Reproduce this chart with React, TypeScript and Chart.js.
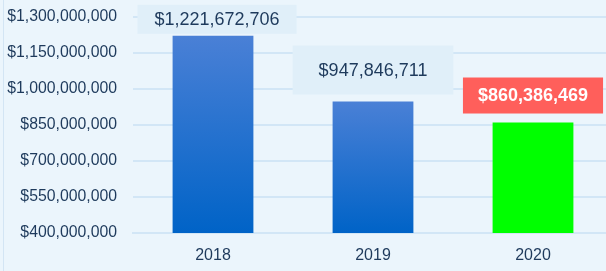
import React, { useEffect, useRef } from "react";
import { Chart, registerables } from "chart.js";

Chart.register(...registerables);

const categories = ["2018", "2019", "2020"];
const values = [1221672706, 947846711, 860386469];
const yMin = 400000000;
const yMax = 1300000000;
const yStep = 150000000;

const BG = "#EBF5FC";
const TEXT = "#1E3A5C";
const GRID = "#D2E6F6";
const FONT = "'Liberation Sans', Arial, sans-serif";

const fmt = (v: number) => "$" + Math.round(v).toLocaleString("en-US");

// label box styles per bar (not data)
const labelStyles = [
  { bg: "#E0EFF9", color: TEXT, weight: "normal", padX: 17, padY: 5.5, gap: 2, dx: 4 },
  { bg: "#E0EFF9", color: TEXT, weight: "normal", padX: 26, padY: 15.5, gap: 7, dx: 0 },
  { bg: "#FF5F5B", color: "#FFFFFF", weight: "bold", padX: 15, padY: 9, gap: 9, dx: 0 },
];

const labelPlugin = {
  id: "boxLabels",
  afterDatasetsDraw(chart: any) {
    const ctx = chart.ctx;
    const meta = chart.getDatasetMeta(0);
    meta.data.forEach((bar: any, i: number) => {
      const st = labelStyles[i];
      const text = fmt(chart.data.datasets[0].data[i]);
      ctx.save();
      ctx.font = `${st.weight} 18px ${FONT}`;
      const tw = ctx.measureText(text).width;
      const w = tw + st.padX * 2;
      const h = 18 + st.padY * 2;
      const cx = bar.x + st.dx;
      const bottom = bar.y - st.gap;
      ctx.fillStyle = st.bg;
      ctx.fillRect(cx - w / 2, bottom - h, w, h);
      ctx.fillStyle = st.color;
      ctx.textAlign = "center";
      ctx.textBaseline = "middle";
      ctx.fillText(text, cx, bottom - h / 2 + 1);
      ctx.restore();
    });
  },
};

export default function App() {
  const ref = useRef<HTMLCanvasElement | null>(null);
  useEffect(() => {
    document.body.style.margin = "0";
    document.body.style.background = BG;
    const canvas = ref.current!;
    const chart = new Chart(canvas, {
      type: "bar",
      data: {
        labels: categories,
        datasets: [
          {
            data: values,
            categoryPercentage: 1,
            barPercentage: 0.505,
            backgroundColor: (c: any) => {
              const ch = c.chart;
              const i = c.dataIndex;
              if (i === 2) return "#00FF00";
              const ys = ch.scales?.y;
              if (!ys || !ch.chartArea) return "#2a74d0";
              const v = c.raw as number;
              const top = ys.getPixelForValue(v);
              const base = ys.getPixelForValue(yMin);
              const g = ch.ctx.createLinearGradient(0, top, 0, base);
              g.addColorStop(0, "#4A80D6");
              g.addColorStop(1, "#0063C7");
              return g;
            },
          },
        ],
      },
      options: {
        responsive: false,
        animation: false,
        layout: { padding: { top: 17, right: 0, left: 0, bottom: 0 } },
        plugins: { legend: { display: false }, tooltip: { enabled: false } },
        scales: {
          x: {
            grid: { display: false, drawTicks: false },
            border: { display: true, color: GRID, width: 2 },
            ticks: { color: TEXT, font: { size: 16, family: FONT }, padding: 13 },
            afterFit: (s: any) => {
              s.height = 38;
              s.paddingLeft = 0;
              s.paddingRight = 0;
            },
          },
          y: {
            min: yMin,
            max: yMax,
            grid: { color: GRID, lineWidth: 2, drawTicks: false },
            border: { display: false },
            ticks: {
              stepSize: yStep,
              color: TEXT,
              font: { size: 15.8, family: FONT },
              padding: 16,
              callback: (v: any) => fmt(Number(v)),
            },
            afterFit: (s: any) => {
              s.width = 133;
              s.paddingTop = 0;
              s.paddingBottom = 0;
            },
          },
        },
      },
      plugins: [labelPlugin],
    });
    return () => chart.destroy();
  }, []);
  return (
    <div
      style={{
        position: "fixed",
        left: 0,
        top: 0,
        width: 606,
        height: 271,
        overflow: "hidden",
        background: BG,
      }}
    >
      <div
        style={{
          position: "absolute",
          left: 3,
          top: 0,
          width: 1,
          height: 271,
          background: "#D3E5F4",
        }}
      />
      <canvas ref={ref} width={613} height={271} style={{ position: "absolute", left: 0, top: 0 }} />
    </div>
  );
}
